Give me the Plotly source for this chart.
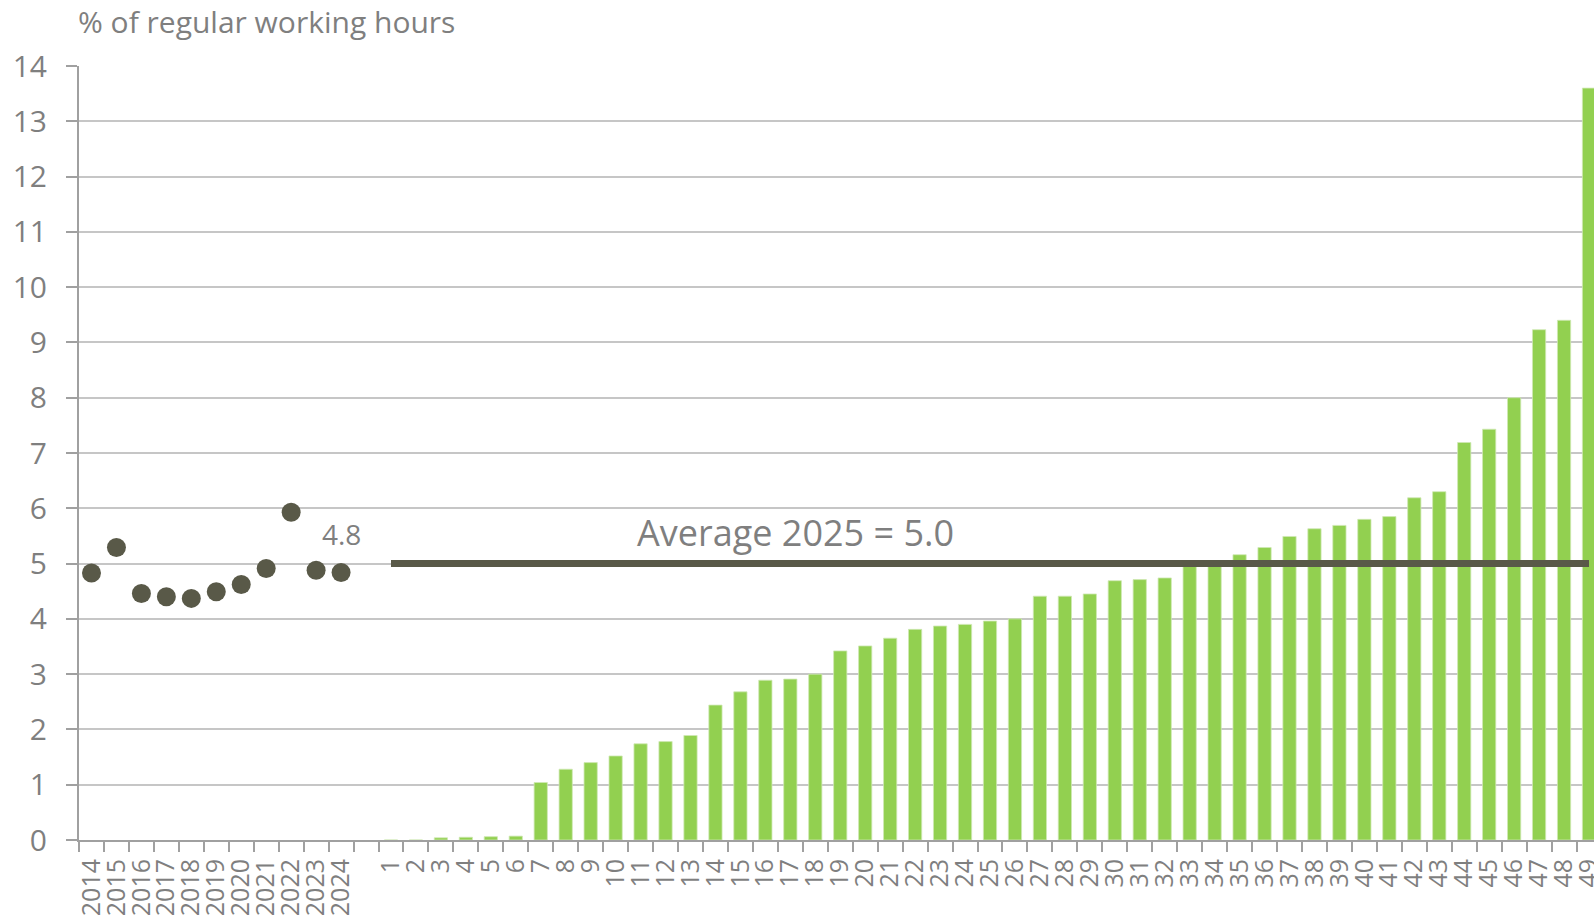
import plotly.graph_objects as go

years = ["2014", "2015", "2016", "2017", "2018", "2019", "2020", "2021", "2022", "2023", "2024"]
year_values = [4.83, 5.29, 4.46, 4.40, 4.37, 4.49, 4.62, 4.91, 5.93, 4.88, 4.84]

units = [str(k) for k in range(1, 50)]
unit_values = [0, 0, 0.04, 0.05, 0.06, 0.07, 1.04, 1.28, 1.40, 1.52,
               1.74, 1.78, 1.89, 2.44, 2.68, 2.89, 2.91, 3.00, 3.42, 3.51,
               3.65, 3.81, 3.87, 3.90, 3.96, 4.00, 4.41, 4.41, 4.45, 4.69,
               4.71, 4.74, 4.97, 5.01, 5.16, 5.29, 5.49, 5.63, 5.69, 5.80,
               5.85, 6.19, 6.30, 7.19, 7.43, 8.00, 9.23, 9.40, 13.60]

average_2025 = 5.0
last_year_label = "4.8"
gap = " "

categories = years + [gap] + units

DARK = "#595948"
GREEN = "#92d050"
GREY_TEXT = "#7f7f7f"
FONT = "Open Sans"

fig = go.Figure()

fig.add_trace(go.Bar(
    x=[gap] + units,
    y=[None] + unit_values,
    marker=dict(color=GREEN, line=dict(color="#cfe9b4", width=0.8)),
    showlegend=False,
))

fig.add_trace(go.Scatter(
    x=units,
    y=[average_2025] * len(units),
    mode="lines",
    line=dict(color=DARK, width=7),
    showlegend=False,
))

fig.add_trace(go.Scatter(
    x=years,
    y=year_values,
    mode="markers",
    marker=dict(color=DARK, size=19),
    showlegend=False,
))

fig.add_annotation(
    x=28.2, y=5.56, xref="x", yref="y",
    text=f"Average 2025 = {average_2025:.1f}",
    showarrow=False,
    font=dict(family=FONT, size=36, color=GREY_TEXT),
)

# label above the 2024 dot (index of the category, not the name)
fig.add_annotation(
    x=categories.index(years[-1]), y=5.54, xref="x", yref="y",
    text=last_year_label,
    showarrow=False,
    font=dict(family=FONT, size=28, color=GREY_TEXT),
)

fig.add_annotation(
    x=0, y=1, xref="paper", yref="paper",
    xanchor="left", yanchor="middle", xshift=-3, yshift=45,
    text="% of regular working hours",
    showarrow=False,
    font=dict(family=FONT, size=30, color=GREY_TEXT),
)

fig.update_layout(
    width=1594,
    height=918,
    margin=dict(l=79, r=0, t=66, b=78, autoexpand=False),
    plot_bgcolor="white",
    paper_bgcolor="white",
    bargap=0.47,
    font=dict(family=FONT, size=28, color=GREY_TEXT),
)

fig.update_xaxes(
    type="category",
    categoryorder="array",
    categoryarray=categories,
    range=[-0.5, 60.2],
    dtick=1,
    tickson="boundaries",
    ticks="outside",
    ticklen=10,
    tickwidth=2,
    tickcolor="#a0a0a0",
    tickangle=-90,
    ticklabelstandoff=7,
    tickfont=dict(family=FONT, size=25, color=GREY_TEXT),
    showline=True,
    linecolor="#a0a0a0",
    linewidth=2,
    showgrid=False,
    automargin=False,
)

fig.update_yaxes(
    range=[0, 14],
    dtick=1,
    ticks="outside",
    ticklen=11,
    tickwidth=2,
    tickcolor="#a0a0a0",
    ticklabelstandoff=13,
    tickfont=dict(family=FONT, size=30, color=GREY_TEXT),
    showline=True,
    linecolor="#a0a0a0",
    linewidth=2,
    gridcolor="#c6c6c6",
    gridwidth=2,
    zeroline=False,
    automargin=False,
)

fig.write_html("out.html", config={"displayModeBar": False},
               post_script="document.body.style.margin = '0';")
